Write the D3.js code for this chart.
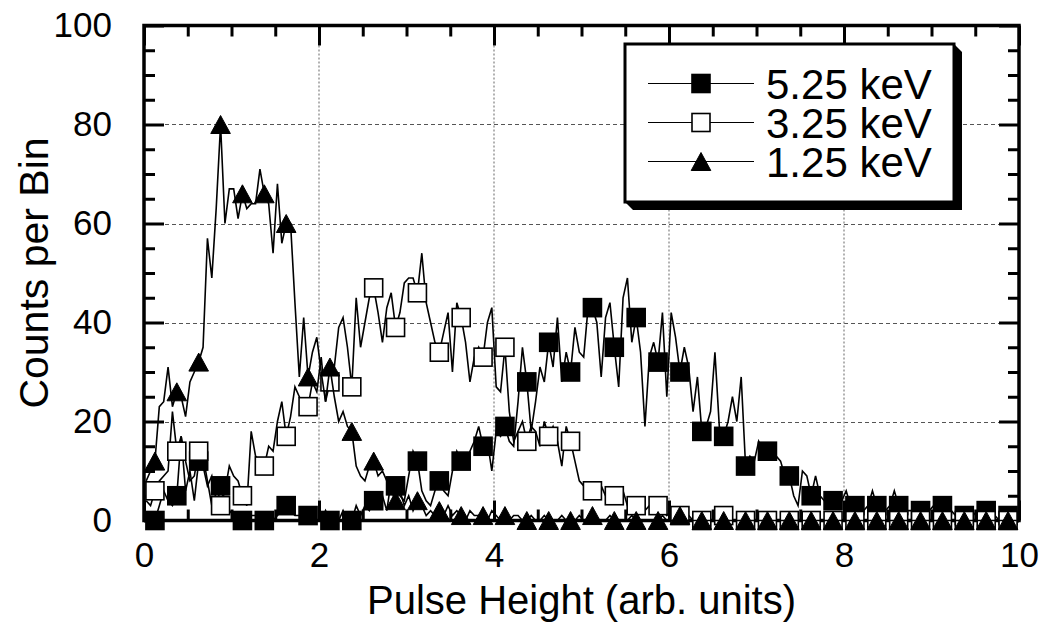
<!DOCTYPE html>
<html><head><meta charset="utf-8">
<script src="https://cdn.jsdelivr.net/npm/d3@7"></script>
<style>
body{margin:0;background:#fff}
svg{display:block}
text{font-family:Arial,"Liberation Sans",Helvetica,sans-serif;fill:#000}
</style>
</head><body>
<svg id="chart" width="1046" height="628"></svg>
<script>
// ---- data ----
const xTicks = [0, 2, 4, 6, 8, 10];
const yTicks = [0, 20, 40, 60, 80, 100];
const xMinorTicks = [0.5,1,1.5,2.5,3,3.5,4.5,5,5.5,6.5,7,7.5,8.5,9,9.5];
const yMinorTicks = [5,10,15,25,30,35,45,50,55,65,70,75,85,90,95];
const seriesNames = ["5.25 keV", "3.25 keV", "1.25 keV"];
const binStart = 0.025, binWidth = 0.05;   // bin centres (arb. units)
const markerFirst = 2, markerEvery = 5;    // a marker on every 5th bin

const counts525 = [
 0,0,0,3,6,4,3,5,17,6,
 10,4,12,13,8,3,2,7,3,2,
 1,0,0,0,1,1,0,0,1,0,
 1,2,3,2,1,1,0,1,0,0,
 0,2,0,1,0,2,0,0,3,1,
 3,2,4,3,5,2,8,7,5,4,
 9,14,12,6,4,3,6,8,6,5,
 10,14,12,11,14,16,19,15,16,10,
 18,17,19,16,15,24,35,28,18,24,
 31,28,36,31,41,28,34,30,39,34,
 33,43,43,40,29,41,44,35,27,45,
 49,36,41,34,19,33,36,32,42,25,
 42,37,30,35,31,22,29,18,19,22,
 34,19,17,20,25,20,29,11,13,12,
 16,14,14,13,13,12,9,9,5,3,
 10,9,5,9,5,4,3,4,3,4,
 6,3,3,3,2,3,6,3,3,2,
 3,6,3,3,2,2,2,2,2,2,
 3,3,3,2,2,1,1,1,1,1,
 2,2,2,1,1,0,1,1,1,0
];
const counts325 = [
 4,3,6,8,9,10,22,14,17,12,
 8,9,14,11,7,9,4,3,6,11,
 9,8,5,3,18,13,12,11,15,14,
 20,24,17,21,27,25,22,23,28,26,
 33,24,28,31,39,41,35,27,45,35,
 40,45,47,42,36,43,46,39,42,48,
 49,49,46,54,44,40,36,34,38,42,
 30,44,41,36,28,33,35,33,40,43,
 27,26,35,22,16,18,20,16,19,18,
 15,20,17,19,16,11,19,16,12,8,
 7,6,6,5,7,5,4,5,4,6,
 3,3,3,4,2,3,2,3,2,1,
 2,1,1,0,1,0,1,0,1,0,
 0,1,1,0,0,0,0,0,0,0,
 0,0,0,0,0,0,0,0,0,0,
 0,0,0,0,0,0,0,0,0,0,
 0,0,0,0,0,0,0,0,0,0,
 0,0,0,0,0,0,0,0,0,0,
 0,0,0,0,0,0,0,0,0,0,
 0,0,0,0,0,0,0,0,0,0
];
const counts125 = [
 8,10,12,23,24,31,23,26,25,21,
 28,30,32,35,57,49,63,80,60,67,
 67,61,66,63,64,64,71,66,64,54,
 68,56,60,60,44,29,41,29,34,37,
 30,24,31,25,20,22,19,18,11,9,
 8,11,12,9,10,8,6,4,6,3,
 5,2,4,3,1,2,1,2,1,3,
 1,2,1,0,2,1,1,1,0,2,
 1,0,1,0,1,1,0,0,1,0,
 0,1,0,0,0,1,0,0,0,1,
 0,0,1,0,0,0,1,0,0,0,
 0,1,0,0,0,0,0,0,1,0,
 0,0,1,0,0,0,0,0,0,0,
 0,0,0,0,0,0,0,0,0,0,
 0,0,0,0,0,0,0,0,0,0,
 0,0,0,0,0,0,0,0,0,0,
 0,0,0,0,0,0,0,0,0,0,
 0,0,0,0,0,0,0,0,0,0,
 0,0,0,0,0,0,0,0,0,0,
 0,0,0,0,0,0,0,0,0,0
];
const seriesValues = [counts525, counts325, counts125];
const markerTypes = ["filledSquare", "openSquare", "triangle"];

// ---- layout ----
const svg = d3.select("#chart");
const pL = 144, pR = 1019, pT = 25.5, pB = 520.5;
const x = d3.scaleLinear().domain([0, 10]).range([pL, pR]);
const y = d3.scaleLinear().domain([0, 100]).range([pB, pT]);

// grid
svg.append("g").selectAll("line").data(yTicks.slice(1, -1)).join("line")
  .attr("x1", pL).attr("x2", pR)
  .attr("y1", d => Math.round(y(d)) + 0.5).attr("y2", d => Math.round(y(d)) + 0.5)
  .attr("stroke", "#555").attr("stroke-width", 1).attr("stroke-dasharray", "4,3");
svg.append("g").selectAll("line").data(xTicks.slice(1, -1)).join("line")
  .attr("x1", d => x(d)).attr("x2", d => x(d))
  .attr("y1", pT).attr("y2", pB)
  .attr("stroke", "#999").attr("stroke-width", 1.5).attr("stroke-dasharray", "2,2");

// axes
function styleAxis(g, width) {
  g.select(".domain").remove();
  g.selectAll(".tick line").attr("stroke", "#000").attr("stroke-width", width);
  g.selectAll("text").attr("font-size", 35).attr("font-family", "Arial, 'Liberation Sans', sans-serif").attr("fill", "#000");
}
svg.append("g").attr("transform", `translate(0,${pB})`)
  .call(d3.axisBottom(x).tickValues(xTicks).tickSize(-20).tickPadding(22).tickFormat(d3.format("d")))
  .call(g => styleAxis(g, 3));
svg.append("g").attr("transform", `translate(0,${pB})`)
  .call(d3.axisBottom(x).tickValues(xMinorTicks).tickSize(-11).tickFormat(""))
  .call(g => styleAxis(g, 3));
svg.append("g").attr("transform", `translate(0,${pT})`)
  .call(d3.axisTop(x).tickValues(xTicks).tickSize(-20).tickFormat(""))
  .call(g => styleAxis(g, 3));
svg.append("g").attr("transform", `translate(0,${pT})`)
  .call(d3.axisTop(x).tickValues(xMinorTicks).tickSize(-11).tickFormat(""))
  .call(g => styleAxis(g, 3));
svg.append("g").attr("transform", `translate(${pL},0)`)
  .call(d3.axisLeft(y).tickValues(yTicks).tickSize(-20).tickPadding(32).tickFormat(d3.format("d")))
  .call(g => styleAxis(g, 3));
svg.append("g").attr("transform", `translate(${pL},0)`)
  .call(d3.axisLeft(y).tickValues(yMinorTicks).tickSize(-11).tickFormat(""))
  .call(g => styleAxis(g, 3));
svg.append("g").attr("transform", `translate(${pR},0)`)
  .call(d3.axisRight(y).tickValues(yTicks).tickSize(-20).tickFormat(""))
  .call(g => styleAxis(g, 3));
svg.append("g").attr("transform", `translate(${pR},0)`)
  .call(d3.axisRight(y).tickValues(yMinorTicks).tickSize(-11).tickFormat(""))
  .call(g => styleAxis(g, 3));

// frame
svg.append("rect").attr("x", pL).attr("y", pT)
  .attr("width", pR - pL).attr("height", pB - pT)
  .attr("fill", "none").attr("stroke", "#000").attr("stroke-width", 3.5);

// axis titles
svg.append("text").attr("x", (pL + pR) / 2).attr("y", 614)
  .attr("text-anchor", "middle").attr("font-size", 40).text("Pulse Height (arb. units)");
svg.append("text").attr("transform", `translate(48,${(pT + pB) / 2}) rotate(-90)`)
  .attr("text-anchor", "middle").attr("font-size", 41).text("Counts per Bin");

// markers
const triPath = "M0,-9L9.8,9L-9.8,9Z";
function drawMarker(sel, type) {
  if (type === "triangle") {
    sel.append("path").attr("d", triPath).attr("fill", "#000").attr("stroke", "#000").attr("stroke-width", 1);
  } else {
    sel.append("rect").attr("x", -9).attr("y", -9).attr("width", 18).attr("height", 18)
      .attr("fill", type === "filledSquare" ? "#000" : "#fff")
      .attr("stroke", "#000").attr("stroke-width", 1.6);
  }
}

// series
const line = d3.line().x(d => x(d.x)).y(d => y(d.v));
seriesValues.forEach((vals, s) => {
  const pts = vals.map((v, i) => ({ x: binStart + binWidth * i, v, i }));
  const g = svg.append("g");
  g.append("path").datum(pts).attr("d", line)
    .attr("fill", "none").attr("stroke", "#000").attr("stroke-width", 1.6);
  const mk = pts.filter(p => p.i % markerEvery === markerFirst);
  g.selectAll("g.m").data(mk).join("g").attr("class", "m")
    .attr("transform", d => `translate(${x(d.x)},${y(d.v)})`)
    .each(function () { drawMarker(d3.select(this), markerTypes[s]); });
});

// legend
const L = 625, T = 44, R = 954, B = 202, sh = 8;
const lg = svg.append("g");
lg.append("polygon")
  .attr("points", `${R},${T} ${R + sh},${T + sh} ${R + sh},${B + sh} ${L + sh},${B + sh} ${L},${B}`)
  .attr("fill", "#000");
lg.append("rect").attr("x", L).attr("y", T).attr("width", R - L).attr("height", B - T)
  .attr("fill", "#fff").attr("stroke", "#000").attr("stroke-width", 3);
const rowY = [83.5, 122.5, 161.5];
seriesNames.forEach((name, s) => {
  const r = lg.append("g").attr("transform", `translate(0,${rowY[s]})`);
  r.append("line").attr("x1", 648).attr("x2", 754).attr("y1", 0).attr("y2", 0)
    .attr("stroke", "#000").attr("stroke-width", 1.2);
  const m = r.append("g").attr("transform", "translate(701,0)");
  drawMarker(m, markerTypes[s]);
  r.append("text").attr("x", 766).attr("y", 0).attr("dy", "0.36em")
    .attr("font-size", 42).text(name);
});
</script>
</body></html>
